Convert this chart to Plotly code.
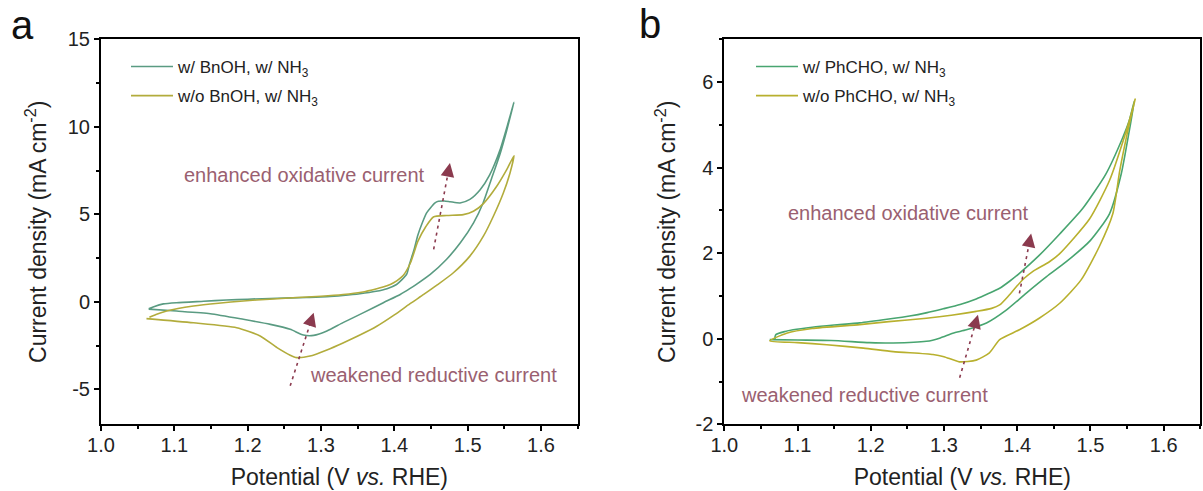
import plotly.graph_objects as go

# ---------------- data ----------------
# Panel a: w/ BnOH, w/ NH3 (forward scan then reverse scan)
a_bnoh_v = [1.065, 1.072, 1.085, 1.103, 1.14, 1.171, 1.20, 1.24, 1.28, 1.308, 1.33, 1.353, 1.375, 1.39,
            1.403, 1.41, 1.417, 1.421, 1.427, 1.432, 1.438, 1.444, 1.4555, 1.46, 1.468, 1.476, 1.4896,
            1.503, 1.517, 1.530, 1.544, 1.555, 1.563,
            1.560, 1.553, 1.544, 1.533, 1.521, 1.508, 1.49, 1.471, 1.449, 1.43, 1.421, 1.408, 1.385,
            1.358, 1.33, 1.308, 1.29, 1.276, 1.258, 1.231, 1.194, 1.149, 1.103, 1.065]
a_bnoh_j = [-0.40, -0.28, -0.12, -0.05, 0.03, 0.10, 0.15, 0.20, 0.25, 0.29, 0.36, 0.46, 0.60, 0.75,
            0.99, 1.25, 1.60, 2.2, 3.0, 3.8, 4.5, 5.08, 5.65, 5.74, 5.76, 5.72, 5.65,
            5.85, 6.40, 7.25, 8.67, 10.2, 11.4,
            10.9, 9.76, 8.43, 7.1, 5.65, 4.51, 3.37, 2.42, 1.57, 1.0, 0.75, 0.42, -0.05,
            -0.62, -1.19, -1.67, -1.92, -1.9, -1.57, -1.29, -1.0, -0.68, -0.53, -0.42]

# Panel a: w/o BnOH, w/ NH3
a_none_v = [1.066, 1.075, 1.0895, 1.105, 1.126, 1.16, 1.194, 1.23, 1.262, 1.30, 1.33, 1.355, 1.376, 1.39,
            1.399, 1.412, 1.422, 1.432, 1.443, 1.4532, 1.4714, 1.494, 1.5078, 1.5214, 1.5396, 1.5532, 1.5632,
            1.5577, 1.5486, 1.535, 1.5214, 1.503, 1.4805, 1.458, 1.44, 1.421, 1.40, 1.376, 1.353,
            1.33, 1.308, 1.285, 1.267, 1.258, 1.24, 1.217, 1.185, 1.126, 1.062]
a_none_j = [-0.88, -0.72, -0.53, -0.38, -0.24, -0.08, 0.05, 0.15, 0.23, 0.32, 0.42, 0.55, 0.75, 0.92,
            1.09, 1.5, 2.23, 3.45, 4.3, 4.85, 4.93, 4.98, 5.17, 5.61, 6.6, 7.55, 8.35,
            7.36, 6.22, 4.89, 3.75, 2.61, 1.66, 0.95, 0.42, -0.12, -0.75, -1.4, -1.9,
            -2.35, -2.75, -3.1, -3.19, -3.05, -2.62, -1.95, -1.48, -1.2, -0.96]

# Panel b: w/ PhCHO, w/ NH3
b_phcho_v = [1.069, 1.070, 1.083, 1.094, 1.12, 1.15, 1.185, 1.2246, 1.253, 1.277, 1.299, 1.322, 1.344,
             1.36, 1.376, 1.39, 1.403, 1.43, 1.458, 1.4896, 1.521, 1.544, 1.553, 1.56,
             1.553, 1.542, 1.526, 1.50, 1.467, 1.44, 1.412, 1.385, 1.358, 1.3306, 1.312, 1.295,
             1.276, 1.2305, 1.198, 1.146, 1.10, 1.062]
b_phcho_j = [-0.02, 0.09, 0.17, 0.21, 0.27, 0.32, 0.37, 0.46, 0.53, 0.61, 0.70, 0.80, 0.93,
             1.05, 1.18, 1.35, 1.53, 1.95, 2.45, 3.05, 3.85, 4.7, 5.1, 5.56,
             4.86, 3.85, 2.92, 2.3, 1.8, 1.45, 1.06, 0.67, 0.37, 0.21, 0.13, 0.02,
             -0.06, -0.10, -0.09, -0.04, -0.03, -0.02]

# Panel b: w/o PhCHO, w/ NH3
b_none_v = [1.062, 1.085, 1.12, 1.185, 1.2246, 1.276, 1.31, 1.344, 1.365, 1.376, 1.388, 1.399, 1.41,
            1.421, 1.444, 1.458, 1.4987, 1.526, 1.546, 1.558, 1.561,
            1.551, 1.54, 1.5305, 1.512, 1.487, 1.458, 1.43, 1.403, 1.376, 1.362, 1.344, 1.321,
            1.30, 1.285, 1.2305, 1.19, 1.14, 1.10, 1.062]
b_none_j = [-0.05, 0.13, 0.24, 0.33, 0.40, 0.48, 0.55, 0.64, 0.71, 0.79, 1.0, 1.22, 1.42,
            1.57, 1.8, 1.99, 2.8, 3.7, 4.7, 5.4, 5.6,
            4.86, 3.93, 2.92, 2.15, 1.37, 0.83, 0.48, 0.21, -0.02, -0.33, -0.50, -0.54,
            -0.42, -0.37, -0.30, -0.22, -0.14, -0.09, -0.05]

legend_a = ["w/ BnOH, w/ NH<sub>3</sub>", "w/o BnOH, w/ NH<sub>3</sub>"]
legend_b = ["w/ PhCHO, w/ NH<sub>3</sub>", "w/o PhCHO, w/ NH<sub>3</sub>"]

x_ticks = [1.0, 1.1, 1.2, 1.3, 1.4, 1.5, 1.6]
x_range = [1.0, 1.65]
ya_range = [-7, 15]
ya_ticks = [-5, 0, 5, 10, 15]
yb_range = [-2, 7]
yb_ticks = [-2, 0, 2, 4, 6]

label_up = "enhanced oxidative current"
label_down = "weakened reductive current"
# annotation text anchors (V, J)
a_text_up = (1.277, 7.26)
a_text_down = (1.4535, -4.18)
b_text_up = (1.251, 2.95)
b_text_down = (1.192, -1.32)
# arrows: (tail V, tail J, head V, head J)
a_arrows = [(1.4536, 3.0, 1.4758, 7.93), (1.258, -4.8, 1.29, -0.62)]
b_arrows = [(1.403, 1.06, 1.419, 2.46), (1.3214, -0.91, 1.3464, 0.56)]

# ---------------- style ----------------
OFF = 0  # body margin removed via post_script
W, H = 1203 - OFF, 491 - OFF
FONT = "Liberation Sans, Arial, sans-serif"
GREEN_A, YELLOW_A = "#5A9B82", "#B2AC3C"
GREEN_B, YELLOW_B = "#48A570", "#B8B02E"
ARROW = "#8B3A4E"
TXT = "#9A6070"


def fx(px):
    return (px - OFF) / W


def fy(py):
    return 1 - (py - OFF) / H


dom_xa = [fx(101), fx(577.7)]
dom_xb = [fx(724.3), fx(1200.3)]
dom_y = [fy(424.3), fy(39.3)]

fig = go.Figure()


def add_cv(v, j, color, name, xa, ya, legend, group):
    fig.add_trace(go.Scatter(x=v, y=j, mode="lines", name=name, legendgroup=group,
                             line=dict(color=color, width=1.6, shape="spline", smoothing=0.6),
                             xaxis=xa, yaxis=ya, legend=legend))


add_cv(a_bnoh_v, a_bnoh_j, GREEN_A, legend_a[0], "x", "y", "legend", "a1")
add_cv(a_none_v, a_none_j, YELLOW_A, legend_a[1], "x", "y", "legend", "a2")
add_cv(b_phcho_v, b_phcho_j, GREEN_B, legend_b[0], "x2", "y2", "legend2", "b1")
add_cv(b_none_v, b_none_j, YELLOW_B, legend_b[1], "x2", "y2", "legend2", "b2")

annotations = []


def px_per_unit(dom, rng, size):
    return (dom[1] - dom[0]) * size / (rng[1] - rng[0])


def add_arrows(arrows, xa, ya, yrng, xdom):
    kx = px_per_unit(xdom, x_range, W)
    ky = px_per_unit(dom_y, yrng, H)
    for tv, tj, hv, hj in arrows:
        dxp = (hv - tv) * kx
        dyp = (hj - tj) * ky
        L = (dxp ** 2 + dyp ** 2) ** 0.5
        back = 9.0
        bv = hv - (hv - tv) * back / L
        bj = hj - (hj - tj) * back / L
        fig.add_trace(go.Scatter(x=[tv, bv], y=[tj, bj], mode="lines", showlegend=False,
                                 line=dict(color=ARROW, width=1.6, dash="3px,4px"),
                                 xaxis=xa, yaxis=ya, hoverinfo="skip"))
        annotations.append(dict(x=hv, y=hj, ax=bv, ay=bj, xref=xa, yref=ya,
                                axref=xa, ayref=ya, text="", showarrow=True,
                                arrowhead=2, arrowsize=1.7, arrowwidth=1.6,
                                arrowcolor=ARROW, standoff=0))


add_arrows(a_arrows, "x", "y", ya_range, dom_xa)
add_arrows(b_arrows, "x2", "y2", yb_range, dom_xb)

for (xv, yv), txt, xr, yr in [(a_text_up, label_up, "x", "y"), (a_text_down, label_down, "x", "y"),
                              (b_text_up, label_up, "x2", "y2"), (b_text_down, label_down, "x2", "y2")]:
    annotations.append(dict(x=xv, y=yv, xref=xr, yref=yr, text=txt, showarrow=False,
                            font=dict(family=FONT, size=20, color=TXT)))

annotations.append(dict(x=fx(9), y=fy(25), xref="paper", yref="paper", text="a",
                        showarrow=False, xanchor="left", yanchor="middle",
                        font=dict(family=FONT, size=40, color="#111")))
annotations.append(dict(x=fx(637), y=fy(24), xref="paper", yref="paper", text="b",
                        showarrow=False, xanchor="left", yanchor="middle",
                        font=dict(family=FONT, size=40, color="#111")))

xaxis_common = dict(range=x_range, tickvals=x_ticks, ticktext=[f"{t:.1f}" for t in x_ticks],
                    showline=True, linecolor="black", linewidth=2, mirror=True,
                    ticks="outside", ticklen=5, tickwidth=1.5, tickcolor="black",
                    minor=dict(ticks="outside", ticklen=3, tickwidth=1.5, dtick=0.05, tickcolor="black"),
                    showgrid=False, zeroline=False, automargin=False,
                    ticklabelstandoff=-3,
                    tickfont=dict(family=FONT, size=20, color="#222"),
                    title=dict(text="Potential (V <i>vs.</i> RHE)", standoff=14,
                               font=dict(family=FONT, size=23, color="#222")))


def yaxis_common(rng, ticks, minor_dtick, standoff):
    return dict(range=rng, tickvals=ticks, ticktext=[str(t) for t in ticks],
                showline=True, linecolor="black", linewidth=2, mirror=True,
                ticks="outside", ticklen=5, tickwidth=1.5, tickcolor="black",
                minor=dict(ticks="outside", ticklen=3, tickwidth=1.5, dtick=minor_dtick, tickcolor="black"),
                showgrid=False, zeroline=False, automargin=False,
                tickfont=dict(family=FONT, size=20, color="#222"),
                title=dict(text="Current density (mA cm<sup>-2</sup>)", standoff=standoff,
                           font=dict(family=FONT, size=23, color="#222")))


legend_common = dict(font=dict(family=FONT, size=17, color="#222"), bgcolor="rgba(0,0,0,0)",
                     borderwidth=0, xanchor="left", yanchor="top", itemwidth=42,
                     tracegroupgap=4)

fig.update_layout(
    width=W, height=H, template="none",
    paper_bgcolor="white", plot_bgcolor="white",
    margin=dict(l=0, r=0, t=0, b=0),
    xaxis=dict(domain=dom_xa, anchor="y", **xaxis_common),
    yaxis=dict(domain=dom_y, anchor="x", **yaxis_common(ya_range, ya_ticks, 2.5, 15)),
    xaxis2=dict(domain=dom_xb, anchor="y2", **xaxis_common),
    yaxis2=dict(domain=dom_y, anchor="x2", **yaxis_common(yb_range, yb_ticks, 1, 13)),
    legend=dict(x=fx(126), y=fy(49), **legend_common),
    legend2=dict(x=fx(751), y=fy(49), **legend_common),
    annotations=annotations,
    showlegend=True,
)

fig.write_html("out.html", config={"displayModeBar": False},
               post_script="document.body.style.margin='0px';")
